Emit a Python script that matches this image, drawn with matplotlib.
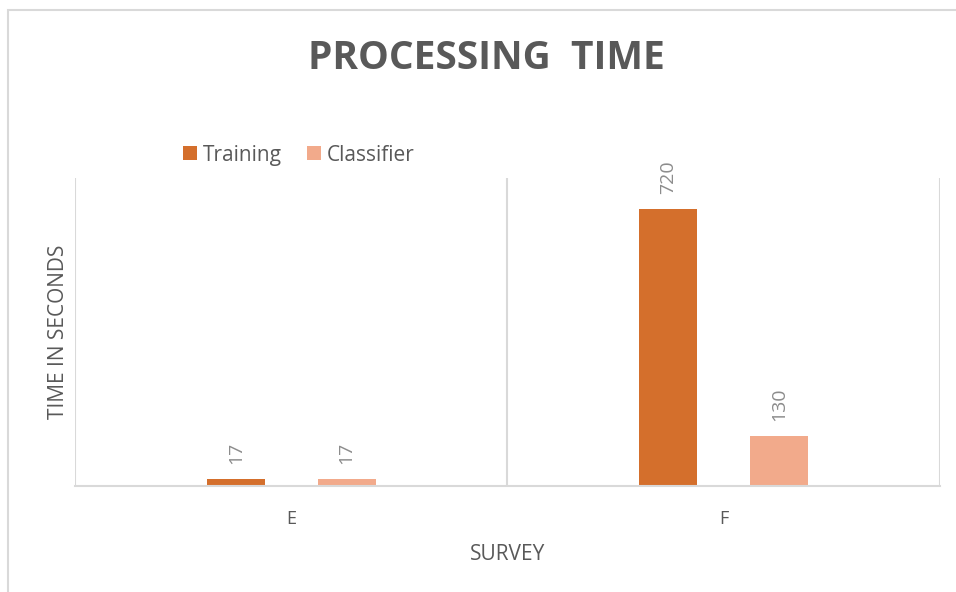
import numpy as np
import matplotlib.pyplot as plt
from matplotlib.patches import Rectangle

# datos
encuestas = ["E", "F"]
training = [17, 720]
classifier = [17, 130]

plt.rcParams['font.family'] = ['Open Sans', 'DejaVu Sans']

fig = plt.figure(figsize=(9.56, 5.92), dpi=100)
ax = fig.add_axes([0.0785, 0.179, 0.9045, 0.520])

# borde del grafico
fig.patches.append(Rectangle((0.0084, -0.2), 1.2, 1.183, transform=fig.transFigure,
                             fill=False, edgecolor='#d9d9d9', linewidth=1.5))

x = np.arange(len(encuestas))
ancho = 0.134
desp = 0.128

b1 = ax.bar(x - desp, training, ancho, color='#D46F2C', label='Training')
b2 = ax.bar(x + desp, classifier, ancho, color='#F2AA8B', label='Classifier')

for barras in (b1, b2):
    for b in barras:
        ax.annotate(f'{int(b.get_height())}', (b.get_x() + b.get_width() / 2, b.get_height()),
                    xytext=(0, 11), textcoords='offset points', rotation=90,
                    ha='center', va='bottom', fontsize=14, color='#8c8c8c')

ax.set_xlim(-0.5, 1.5)
ax.set_ylim(0, 800)
ax.set_xticks(x)
ax.set_xticklabels(encuestas, fontsize=13, color='#595959')
ax.set_yticks([])
ax.tick_params(axis='x', length=0, pad=17)

# lineas verticales entre categorias
for xv in (-0.5, 0.5, 1.5):
    ax.axvline(xv, color='#d9d9d9', linewidth=1.5, zorder=0)

for s in ('top', 'right', 'left'):
    ax.spines[s].set_visible(False)
ax.spines['bottom'].set_color('#d9d9d9')
ax.spines['bottom'].set_linewidth(1.5)

ax.set_xlabel('SURVEY', fontsize=15, color='#595959', labelpad=12)
ax.set_ylabel('TIME IN SECONDS', fontsize=15, color='#595959', labelpad=4)

fig.text(0.509, 0.902, 'PROCESSING  TIME', ha='center', va='center',
         fontsize=28, fontweight='bold', color='#595959')

fig.legend(loc='center left', bbox_to_anchor=(0.172, 0.738), ncol=2, frameon=False,
           fontsize=15, labelcolor='#595959', handlelength=0.65, handleheight=0.65,
           handletextpad=0.3, columnspacing=1.2)

fig.savefig('out.png', dpi=100)
